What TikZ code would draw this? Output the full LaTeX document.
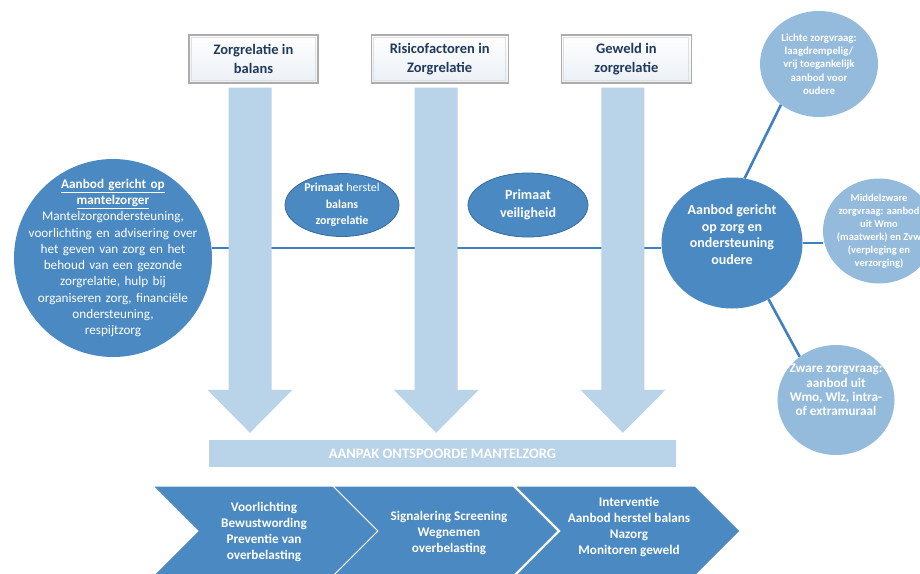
\documentclass[tikz,border=0pt]{standalone}
\usepackage{fontspec}
\setmainfont{Carlito}
\usetikzlibrary{shapes.geometric,calc,positioning}

\definecolor{midblue}{HTML}{4A89C1}
\definecolor{lightblue}{HTML}{94BBDC}
\definecolor{paleblue}{HTML}{B9D3E8}
\definecolor{lineblue}{HTML}{4080BF}
\definecolor{navy}{HTML}{1F3A5C}
\definecolor{ellborder}{HTML}{3A6B9B}
\definecolor{boxfill}{HTML}{EBF0F6}

\tikzset{
	topbox/.style={draw=gray!65, line width=1.2pt, top color=white, bottom color=boxfill,
		minimum height=48pt, align=center, text=navy, inner sep=0pt,
		font=\fontsize{14.5}{18.5}\selectfont\bfseries,
		path picture={\draw[gray!25, line width=1pt]
			([shift={(2.5pt,-2.5pt)}]path picture bounding box.north west) rectangle
			([shift={(-2.5pt,2.5pt)}]path picture bounding box.south east);}},
	bluecirc/.style={circle, fill=midblue, text=white, align=center, inner sep=-40pt},
	lightcirc/.style={ellipse, fill=lightblue, text=white, align=center, inner sep=-20pt,
		font=\fontsize{10.8}{13.3}\selectfont\bfseries},
	primaat/.style={ellipse, draw=ellborder, line width=0.8pt, fill=midblue, text=white,
		align=center, inner sep=-10pt},
	conn/.style={lineblue, line width=2.6pt},
	chev/.style={fill=midblue, draw=white, line width=1pt},
	chevtext/.style={text=white, align=center, font=\fontsize{13.2}{16}\selectfont\bfseries},
}

\begin{document}
\begin{tikzpicture}[x=1pt, y=-1pt]
	\useasboundingbox (0,0) rectangle (920,573);

	% kolommen
	\node[topbox, minimum width=129pt] (zr) at (253.5,59) {Zorgrelatie in\\balans};
	\node[topbox, minimum width=137pt, right=52pt of zr] (rf) {Risicofactoren in\\Zorgrelatie};
	\node[topbox, minimum width=130pt, right=52pt of rf] (gw) {Geweld in\\zorgrelatie};

	\node[fill=paleblue, minimum width=467pt, minimum height=27pt, text=white,
		font=\fontsize{14.5}{16}\selectfont\bfseries] (aanpak) at (442.5,453.5)
		{AANPAK ONTSPOORDE MANTELZORG};

	% aanbod links en rechts
	\node[bluecirc, minimum size=198pt, text width=200pt,
		font=\fontsize{13.2}{16.3}\selectfont] (mz) at (113,258)
		{\underline{\textbf{Aanbod gericht op}}\\\underline{\textbf{mantelzorger}}\\
		Mantelzorgondersteuning,\\voorlichting en advisering over\\het geven van zorg en het\\
		behoud van een gezonde\\zorgrelatie, hulp bij\\organiseren zorg, financiële\\
		ondersteuning,\\respijtzorg};
	\node[bluecirc, shape=ellipse, minimum width=141pt, minimum height=131pt,
		font=\fontsize{14}{16.7}\selectfont\bfseries] (ou) at (732,243)
		{Aanbod gericht\\op zorg en\\ondersteuning\\oudere\\\mbox{}};

	\node[lightcirc, minimum width=118pt, minimum height=106pt] (lz) at (819,64)
		{Lichte zorgvraag:\\laagdrempelig/\\vrij toegankelijk\\aanbod voor\\oudere};
	\node[lightcirc, minimum width=112pt, minimum height=105pt,
		font=\fontsize{10.5}{13}\selectfont\bfseries] (mw) at (879,231)
		{Middelzware\\zorgvraag: aanbod\\uit Wmo\\(maatwerk) en Zvw\\(verpleging en\\verzorging)};
	\node[lightcirc, minimum width=117pt, minimum height=110pt,
		font=\fontsize{13.2}{14.2}\selectfont\bfseries] (zw) at (836,400)
		{Zware zorgvraag:\\aanbod uit\\Wmo, Wlz, intra-\\of extramuraal\\[6pt]\mbox{}};

	\coordinate (as) at (400,248);
	\draw[conn] (mz.east |- as) -- (ou.west |- as);
	\draw[conn] (ou.79) -- (lz.227);
	\draw[conn] (ou.east) -- (ou.east -| mw.west);
	\draw[conn] (ou.303) -- (zw.130);

	% pijlen naar beneden
	\foreach \b in {zr,rf,gw}{
		\coordinate (t) at ($(\b.south)+(-3.5,4)$);
		\coordinate (p) at ($(\b.south |- aanpak.north)+(-3.5,-7)$);
		\fill[paleblue] ($(t)+(-21.5,0)$) -- ($(t)+(21.5,0)$) -- ($(p)+(21.5,-43)$)
			-- ($(p)+(42.5,-43)$) -- (p) -- ($(p)+(-42.5,-43)$) -- ($(p)+(-21.5,-43)$) -- cycle;
	}

	\node[primaat, minimum width=114pt, minimum height=63pt,
		font=\fontsize{12}{16.5}\selectfont] (hb) at (342,205)
		{\textbf{Primaat} herstel\\\textbf{balans}\\\textbf{zorgrelatie}};
	\node[primaat, minimum width=120pt, minimum height=64pt,
		font=\fontsize{14}{18}\selectfont\bfseries] (vh) at (528,205)
		{Primaat\\veiligheid};

	% fasen
	\foreach \x in {153,333,515}
		\filldraw[chev] (\x,486) -- ++(180,0) -- ++(45,45) -- ++(-45,45)
			-- ++(-180,0) -- ++(45,-45) -- cycle;
	\node[chevtext] (vl) at (264,532) {Voorlichting\\Bewustwording\\Preventie van\\overbelasting};
	\node[chevtext] (sg) at (449,533) {Signalering Screening\\Wegnemen\\overbelasting};
	\node[chevtext] (iv) at (629,527) {Interventie\\Aanbod herstel balans\\Nazorg\\Monitoren geweld};
\end{tikzpicture}
\end{document}
